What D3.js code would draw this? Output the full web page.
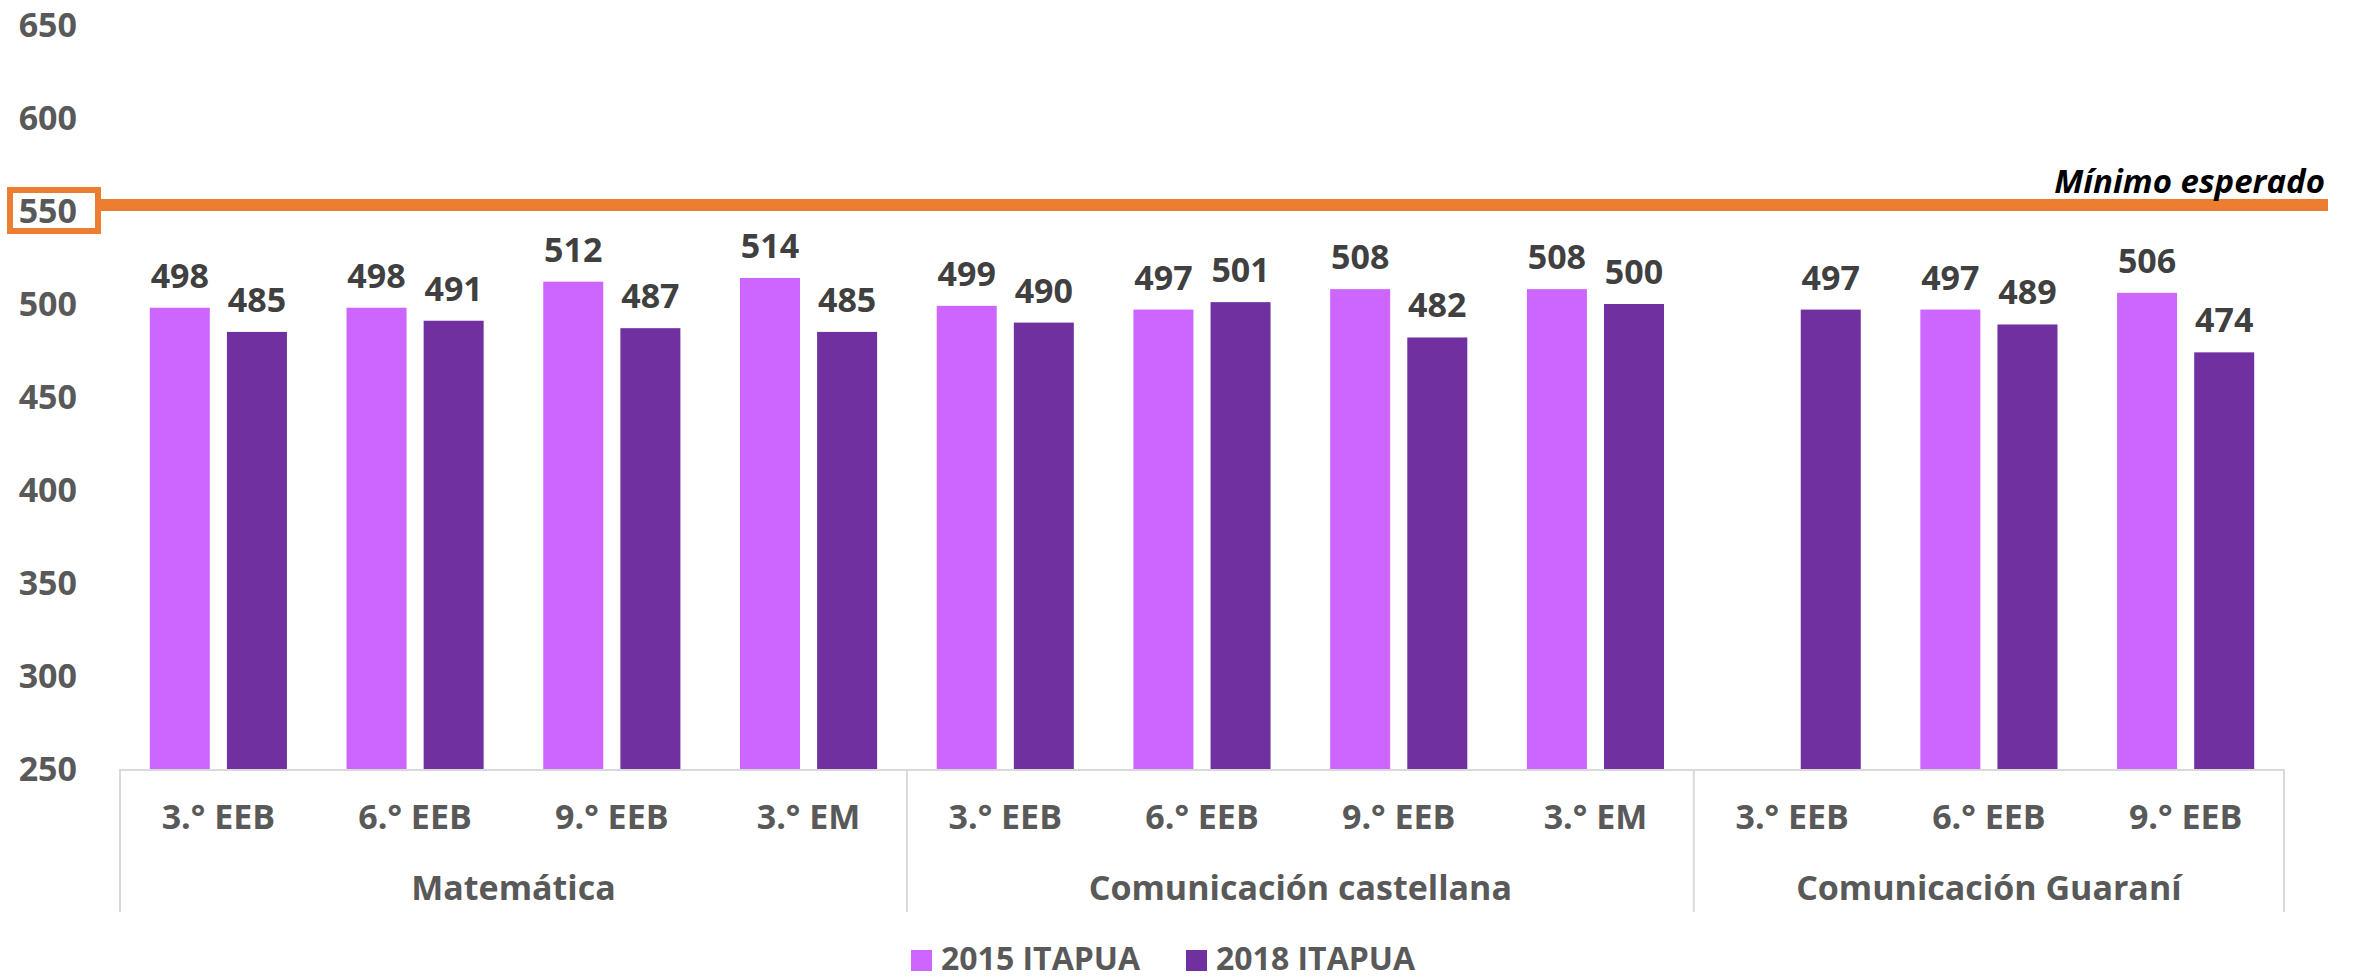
<!DOCTYPE html>
<html>
<head>
<meta charset="utf-8">
<script src="https://d3js.org/d3.v7.min.js"></script>
<style>
  html, body { margin: 0; padding: 0; background: #fff; overflow: hidden; }
  svg { display: block; font-family: 'Open Sans', sans-serif; }
</style>
</head>
<body>
<div id="widget"></div>
<script>
// chart data
const groups = ['Matemática', 'Comunicación castellana', 'Comunicación Guaraní'];
const categories = [
  ['3.° EEB', 0], ['6.° EEB', 0], ['9.° EEB', 0], ['3.° EM', 0],
  ['3.° EEB', 1], ['6.° EEB', 1], ['9.° EEB', 1], ['3.° EM', 1],
  ['3.° EEB', 2], ['6.° EEB', 2], ['9.° EEB', 2],
];
const series2015 = [498, 498, 512, 514, 499, 497, 508, 508, null, 497, 506];
const series2018 = [485, 491, 487, 485, 490, 501, 482, 500, 497, 489, 474];
const seriesNames = ['2015 ITAPUA', '2018 ITAPUA'];
const yTicks = [250, 300, 350, 400, 450, 500, 550, 600, 650];
const minimoEsperado = 550;
const minimoLabel = 'Mínimo esperado';

const colors = ['#CC66FF', '#7030A0'];
const W = 2354, H = 980;

const svg = d3.select('#widget').append('svg')
  .attr('width', W).attr('height', H);

const x = d3.scaleBand().domain(d3.range(categories.length)).range([120, 2284]).padding(0);
const y = d3.scaleLinear().domain([250, 650]).range([769, 25]);

const bw = x.bandwidth();
const barW = bw * 0.305;
const barGap = bw * 0.087;
const offsets = [bw / 2 - barGap / 2 - barW, bw / 2 + barGap / 2];

// y axis labels
svg.append('g')
  .selectAll('text')
  .data(yTicks)
  .enter()
  .append('text')
  .attr('x', 77)
  .attr('y', (d) => y(d))
  .attr('dy', '0.36em')
  .attr('text-anchor', 'end')
  .attr('font-size', 34)
  .attr('font-weight', 700)
  .attr('fill', '#595959')
  .text((d) => d);

// bars + labels
[series2015, series2018].forEach((vals, s) => {
  const data = vals.map((v, i) => ({ v, i })).filter((d) => d.v != null);
  svg.append('g')
    .selectAll('rect')
    .data(data)
    .enter()
    .append('rect')
    .attr('x', (d) => x(d.i) + offsets[s])
    .attr('y', (d) => y(d.v))
    .attr('width', barW)
    .attr('height', (d) => y(250) - y(d.v))
    .attr('fill', colors[s]);

  svg.append('g')
    .selectAll('text')
    .data(data)
    .enter()
    .append('text')
    .attr('x', (d) => x(d.i) + offsets[s] + barW / 2)
    .attr('y', (d) => y(d.v) - 20)
    .attr('text-anchor', 'middle')
    .attr('font-size', 34)
    .attr('font-weight', 700)
    .attr('fill', '#404040')
    .text((d) => d.v);
});

// category axis
svg.append('line')
  .attr('x1', x(0)).attr('x2', x.range()[1])
  .attr('y1', y(250) + 1).attr('y2', y(250) + 1)
  .attr('stroke', '#D9D9D9').attr('stroke-width', 2);

svg.append('g')
  .selectAll('text')
  .data(categories)
  .enter()
  .append('text')
  .attr('x', (d, i) => x(i) + bw / 2)
  .attr('y', 817)
  .attr('dy', '0.36em')
  .attr('text-anchor', 'middle')
  .attr('font-size', 34)
  .attr('font-weight', 700)
  .attr('fill', '#595959')
  .text((d) => d[0]);

// group labels and separators
const groupSpans = groups.map((g, gi) => {
  const idx = categories.map((c, i) => (c[1] === gi ? i : -1)).filter((i) => i >= 0);
  return { name: g, x0: x(idx[0]), x1: x(idx[idx.length - 1]) + bw };
});

const seps = [groupSpans[0].x0].concat(groupSpans.map((g) => g.x1));
svg.append('g')
  .selectAll('line')
  .data(seps)
  .enter()
  .append('line')
  .attr('x1', (d) => d).attr('x2', (d) => d)
  .attr('y1', y(250)).attr('y2', 912)
  .attr('stroke', '#D9D9D9').attr('stroke-width', 2);

svg.append('g')
  .selectAll('text')
  .data(groupSpans)
  .enter()
  .append('text')
  .attr('x', (d) => (d.x0 + d.x1) / 2)
  .attr('y', 888)
  .attr('dy', '0.36em')
  .attr('text-anchor', 'middle')
  .attr('font-size', 34)
  .attr('font-weight', 700)
  .attr('fill', '#595959')
  .text((d) => d.name);

// minimum expected line
svg.append('rect')
  .attr('x', 10).attr('y', y(minimoEsperado) - 21)
  .attr('width', 88).attr('height', 41)
  .attr('fill', 'none')
  .attr('stroke', '#ED7D31').attr('stroke-width', 6);

svg.append('rect')
  .attr('x', 101).attr('y', y(minimoEsperado) - 12)
  .attr('width', 2328 - 101).attr('height', 12)
  .attr('fill', '#ED7D31');

svg.append('text')
  .attr('x', 2325).attr('y', y(minimoEsperado) - 18)
  .attr('text-anchor', 'end')
  .attr('font-size', 33)
  .attr('font-weight', 700)
  .attr('font-style', 'italic')
  .attr('fill', '#000')
  .text(minimoLabel);

// legend
const legendX = [911, 1186];
const lg = svg.append('g')
  .selectAll('g')
  .data(seriesNames)
  .enter()
  .append('g')
  .attr('transform', (d, i) => `translate(${legendX[i]},0)`);

lg.append('rect')
  .attr('x', 0).attr('y', 950)
  .attr('width', 21).attr('height', 21)
  .attr('fill', (d, i) => colors[i]);

lg.append('text')
  .attr('x', 30).attr('y', 970)
  .attr('font-size', 32)
  .attr('font-weight', 700)
  .attr('fill', '#595959')
  .text((d) => d);
</script>
</body>
</html>
